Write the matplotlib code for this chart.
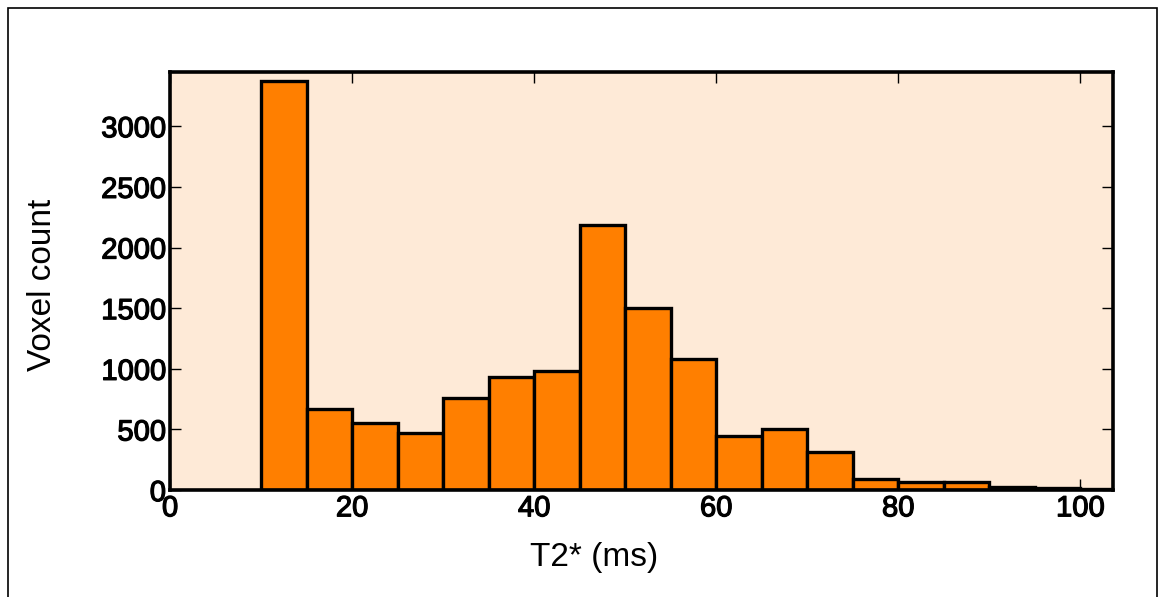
import matplotlib
matplotlib.use("Agg")
import matplotlib.pyplot as plt
import matplotlib.patches as patches
import matplotlib.patheffects as pe
import numpy as np

# histogram of T2* values, bin width 5 ms
bin_edges = [10, 15, 20, 25, 30, 35, 40, 45, 50, 55, 60, 65, 70, 75, 80, 85, 90, 95, 100, 105]
counts = [3370, 665, 555, 470, 760, 930, 985, 2185, 1505, 1080,
          450, 500, 315, 88, 66, 66, 25, 15, 10]

x_ticks = [0, 20, 40, 60, 80, 100]
y_ticks = [0, 500, 1000, 1500, 2000, 2500, 3000]

plt.rcParams['font.family'] = ['Liberation Sans', 'DejaVu Sans']

fig = plt.figure(figsize=(11.6, 5.97), dpi=100)
ax = fig.add_axes([0.1466, 0.179, 0.8129, 0.700])
ax.set_facecolor('#feead7')

edges = np.array(bin_edges)
ax.bar(edges[:-1], counts, width=np.diff(edges), align='edge',
       color='#ff7f00', edgecolor='black', linewidth=2.4, zorder=2)

ax.set_xlim(0, 103.6)
ax.set_ylim(0, 3445)
ax.set_xticks(x_ticks)
ax.set_yticks(y_ticks)
ax.tick_params(direction='in', length=8, width=1, top=True, right=True,
               labelsize=21, pad=3)
# slightly heavier digits, like the original rendering
thick = [pe.withStroke(linewidth=0.9, foreground='black')]
for lab in ax.get_xticklabels() + ax.get_yticklabels():
    lab.set_path_effects(thick)
for s in ax.spines.values():
    s.set_linewidth(2.6)

ax.set_xlabel('T2* (ms)', fontsize=24)
ax.set_ylabel('Voxel count', fontsize=24)
ax.xaxis.set_label_coords(0.45, -0.123)
ax.yaxis.set_label_coords(-0.119, 0.49)

# outer frame around the figure
frame = patches.Rectangle((8 / 1160, -0.05), 1149 / 1160, 1.05 - 8 / 597,
                          transform=fig.transFigure, fill=False,
                          edgecolor='black', linewidth=1.2, clip_on=False)
fig.patches.append(frame)

fig.savefig('out.png', dpi=100)
